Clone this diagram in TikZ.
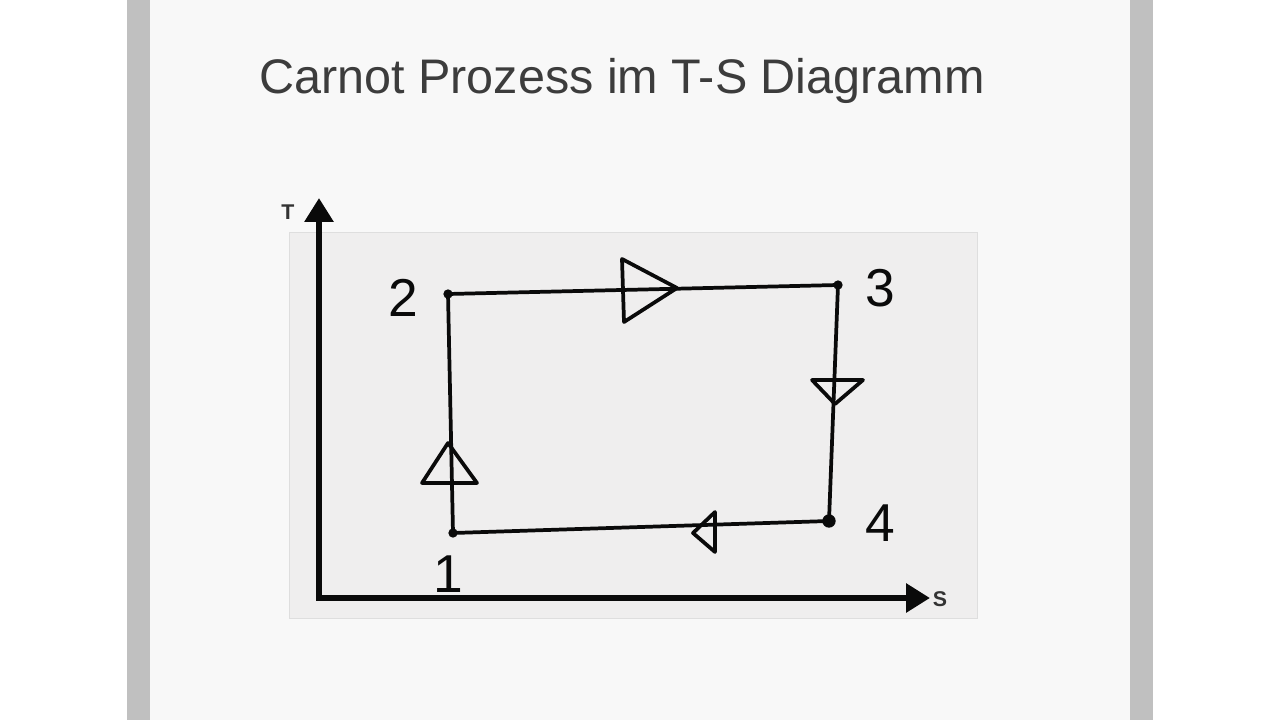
\documentclass[tikz,border=0pt]{standalone}
\usepackage{fontspec}
\setmainfont{Liberation Sans}
\usepackage{xcolor}
\usepackage{tikz}
\usetikzlibrary{arrows.meta,positioning}
\definecolor{page}{HTML}{FFFFFF}
\definecolor{slide}{HTML}{F8F8F8}
\definecolor{bar}{HTML}{C0C0C0}
\definecolor{photo}{HTML}{EFEEEE}
\definecolor{edge}{HTML}{DEDEDE}
\definecolor{ink}{HTML}{0A0A0A}
\definecolor{title}{HTML}{3C3C3C}
\definecolor{axlab}{HTML}{333333}
\tikzset{
  axis/.style={draw=ink, line width=4.5pt, -{Triangle[length=18pt,width=21pt]}},
  cyc/.style={draw=ink, line width=2.8pt, line cap=round, line join=round},
  tri/.style={draw=ink, line width=2.8pt, line join=round},
  dot/.style={circle, fill=ink, inner sep=0pt, minimum size=7pt},
  num/.style={text=ink, font=\fontsize{40}{40}\selectfont},
  axl/.style={text=axlab, font=\fontsize{16}{16}\selectfont\bfseries},
}
\begin{document}
\begin{tikzpicture}[x=0.75pt, y=-0.75pt]
\useasboundingbox (0,0) rectangle (1280,720);
% slide background
\fill[page] (0,0) rectangle (1280,720);
\fill[bar] (127,0) rectangle (1153,720);
\fill[slide] (150,0) rectangle (1130,720);
\node[text=title, font=\fontsize{36.4}{36.4}\selectfont] (head) at (622,81) {Carnot Prozess im T-S Diagramm};
% photo of the sketch
\filldraw[fill=photo, draw=edge, line width=0.6pt] (289,232) rectangle (977,618);
% axes
\coordinate (o) at (319,598);
\coordinate (ttip) at (319,198);
\coordinate (stip) at (930,598);
\draw[axis] (o) -- (ttip);
\draw[axis] ([xshift=-2.2pt]o) -- (stip);
\node[axl] (tl) at (288,212) {T};
\node[axl] (sl) at (940,599) {S};
% cycle
\coordinate (p1) at (453,533);
\coordinate (p2) at (448,294);
\coordinate (p3) at (838,285);
\coordinate (p4) at (829,521);
\draw[cyc] (p1) -- (p2) -- (p3) -- (p4) -- cycle;
\node[dot] (d1) at (p1) {};
\node[dot] (d2) at (p2) {};
\node[dot] (d3) at (p3) {};
\node[dot, minimum size=10pt] (d4) at (p4) {};
% direction marks
\draw[tri] (622,259) -- (677,288) -- (624,322) -- cycle;
\draw[tri] (812,380) -- (863,380) -- (835,404) -- cycle;
\draw[tri] (715,512) -- (693,533) -- (715,552) -- cycle;
\draw[tri] (448,443) -- (477,483) -- (422,483) -- cycle;
% state labels
\node[num] (l1) at (448,574) {1};
\node[num] (l2) at (403,298) {2};
\node[num] (l3) at (880,288) {3};
\node[num] (l4) at (880,523) {4};
\end{tikzpicture}
\end{document}
